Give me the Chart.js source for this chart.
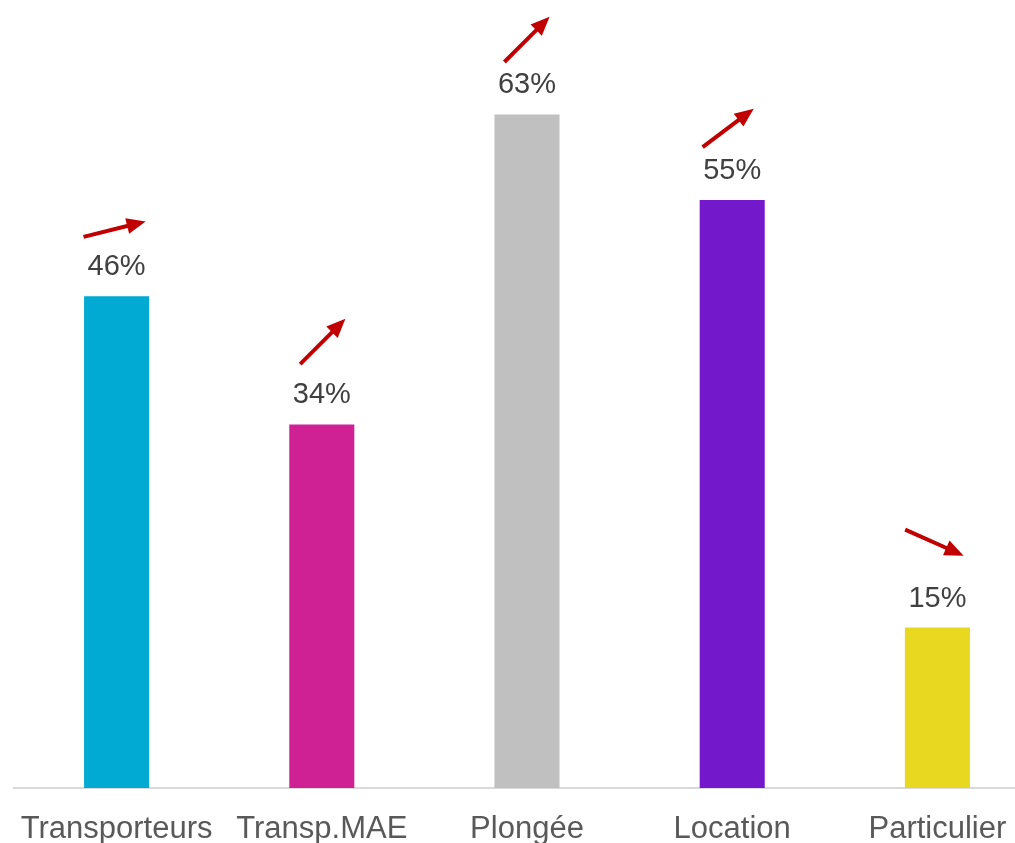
<!DOCTYPE html>
<html>
<head>
<meta charset="utf-8">
<script src="https://cdn.jsdelivr.net/npm/chart.js@4"></script>
<style>
  html, body { margin: 0; padding: 0; background: #fff; overflow: hidden; }
  #wrap { width: 1040px; height: 843px; position: relative; }
</style>
</head>
<body>
<div id="wrap"><canvas id="myChart"></canvas></div>
<script>
const categories = ['Transporteurs', 'Transp.MAE', 'Plongée', 'Location', 'Particulier'];
const values = [46, 34, 63, 55, 15];
const barColors = ['#00AAD2', '#CF2193', '#C0C0C0', '#7418CC', '#E8D820'];
// trend arrow direction per category, in degrees (positive = up)
const trendAngles = [14, 45, 45, 37, -24];

// arrow placement above each value label (px)
const arrowLift = [38, 54, 46, 43, 56];
const arrowShift = [-2, 1, 0, -4, -3];

const trendPlugin = {
  id: 'trendMarks',
  afterDatasetsDraw(chart) {
    const ctx = chart.ctx;
    const meta = chart.getDatasetMeta(0);
    meta.data.forEach((bar, i) => {
      const ly = bar.y - 29;
      ctx.save();
      ctx.fillStyle = '#404040';
      ctx.font = '29px "Liberation Sans", Arial, sans-serif';
      ctx.textAlign = 'center';
      ctx.textBaseline = 'middle';
      ctx.fillText(values[i] + '%', bar.x, ly);

      // arrow
      const a = trendAngles[i] * Math.PI / 180;
      const len = 64, head = 19, hw = 8;
      const cx = bar.x + arrowShift[i], cy = ly - arrowLift[i];
      const ux = Math.cos(a), uy = -Math.sin(a);
      const tx = cx - ux * len / 2, ty = cy - uy * len / 2;
      const px = cx + ux * len / 2, py = cy + uy * len / 2;
      const bx = px - ux * head, by = py - uy * head;
      ctx.strokeStyle = '#C00000';
      ctx.fillStyle = '#C00000';
      ctx.lineWidth = 4;
      ctx.beginPath();
      ctx.moveTo(tx, ty);
      ctx.lineTo(bx + ux * 2, by + uy * 2);
      ctx.stroke();
      ctx.beginPath();
      ctx.moveTo(px, py);
      ctx.lineTo(bx - uy * hw, by + ux * hw);
      ctx.lineTo(bx + uy * hw, by - ux * hw);
      ctx.closePath();
      ctx.fill();
      ctx.restore();
    });
  }
};

const ctx = document.querySelector('#myChart').getContext('2d');

const myChart = new Chart(ctx, {
  type: 'bar',
  data: {
    labels: categories,
    datasets: [{
      data: values,
      backgroundColor: barColors,
      barPercentage: 0.317,
      categoryPercentage: 1,
    }],
  },
  options: {
    responsive: true,
    maintainAspectRatio: false,
    animation: false,
    layout: { padding: { left: 14, right: 0, top: 0, bottom: 0 } },
    plugins: {
      legend: { display: false },
      tooltip: { enabled: false },
    },
    scales: {
      x: {
        grid: { display: false, drawTicks: false },
        border: { display: true, color: '#D9D9D9', width: 2 },
        ticks: {
          color: '#595959',
          padding: 23,
          maxRotation: 0,
          autoSkip: false,
          font: { family: '"Liberation Sans", Arial, sans-serif', size: 31 },
        },
        afterFit: (axis) => {
          axis.height = 55;
          axis.paddingLeft = 0;
          axis.paddingRight = 0;
        },
      },
      y: {
        display: false,
        min: 0,
        max: 73.7,
      },
    },
  },
  plugins: [trendPlugin],
});
</script>
</body>
</html>
